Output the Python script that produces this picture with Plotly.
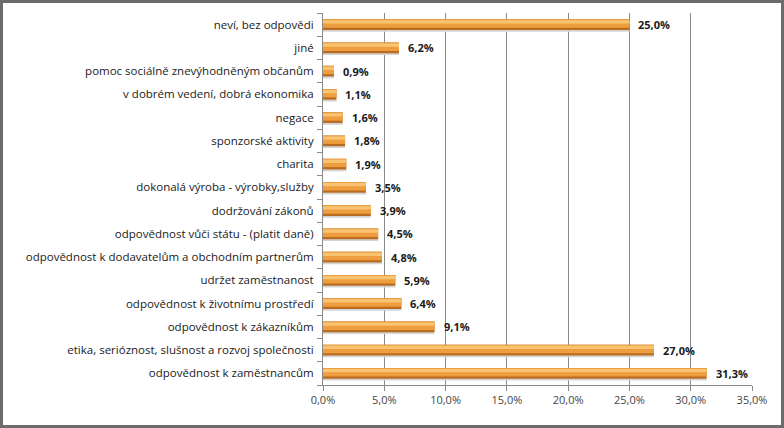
"""
Odpovědnost firem — horizontální sloupcový graf (Plotly)
"""
import plotly.graph_objects as go

# data: zdola nahoru, jak jsou v grafu
categories = [
    'odpovědnost k zaměstnancům',
    'etika, serióznost, slušnost a rozvoj společnosti',
    'odpovědnost k zákazníkům',
    'odpovědnost k životnímu prostředí',
    'udržet zaměstnanost',
    'odpovědnost k dodavatelům a obchodním partnerům',
    'odpovědnost vůči státu - (platit daně)',
    'dodržování zákonů',
    'dokonalá výroba - výrobky,služby',
    'charita',
    'sponzorské aktivity',
    'negace',
    'v dobrém vedení, dobrá ekonomika',
    'pomoc sociálně znevýhodněným občanům',
    'jiné',
    'neví, bez odpovědi',
]
values = [31.3, 27.0, 9.1, 6.4, 5.9, 4.8, 4.5, 3.9, 3.5, 1.9, 1.8, 1.6, 1.1, 0.9, 6.2, 25.0]
x_ticks = [0, 5, 10, 15, 20, 25, 30, 35]
x_ticktext = ['0,0%', '5,0%', '10,0%', '15,0%', '20,0%', '25,0%', '30,0%', '35,0%']

W, H = 784, 428
ML, MR, MT, MB = 323, 32, 13, 43
PW, PH = W - ML - MR, H - MT - MB

FONT = 'Open Sans'
labels = [f'{v:.1f}'.replace('.', ',') + '%' for v in values]

fig = go.Figure()

# válcový vzhled: stín, tmavý spodek, oranžové tělo, světlý horní pruh
for off, wid, color in [(-0.31, 0.09, '#d4d4d4'),
                        (-0.23, 0.46, '#b96b1f'),
                        (-0.13, 0.36, '#ee9e3e'),
                        (0.05, 0.14, '#f8c472')]:
    fig.add_trace(go.Bar(
        x=values, y=categories, orientation='h',
        offset=off, width=wid,
        marker=dict(color=color, line=dict(width=0)),
        hoverinfo='skip', showlegend=False,
    ))

for cat, v, lab in zip(categories, values, labels):
    fig.add_annotation(
        x=v, y=cat, text=f'<b>{lab}</b>', showarrow=False,
        xanchor='left', yanchor='middle', xshift=7,
        font=dict(family=FONT, size=11, color='#1a1a1a'),
    )

# rámeček kolem celého obrázku
fig.add_shape(
    type='rect', xref='paper', yref='paper',
    x0=(1.5 - ML) / PW, x1=(W - 1.5 - ML) / PW,
    y0=(PH + MT - (H - 1.5)) / PH, y1=(PH + MT - 1.5) / PH,
    line=dict(color='#6b6b6b', width=3), layer='above',
)

fig.update_layout(
    width=W, height=H,
    margin=dict(l=ML, r=MR, t=MT, b=MB),
    barmode='overlay',
    plot_bgcolor='white', paper_bgcolor='white',
    font=dict(family=FONT, size=11.5, color='#1a1a1a'),
)
fig.update_xaxes(
    range=[0, 35], tickvals=x_ticks, ticktext=x_ticktext,
    showgrid=True, gridcolor='#8a8a8a', gridwidth=1,
    showline=True, linecolor='#8a8a8a', linewidth=1,
    ticks='outside', ticklen=5, tickcolor='#8a8a8a',
    tickfont=dict(family=FONT, size=11, color='#444444'),
    zeroline=False, fixedrange=True,
)
fig.update_yaxes(
    categoryorder='array', categoryarray=categories,
    range=[-0.5, len(categories) - 0.5],
    showline=True, linecolor='#8a8a8a', linewidth=1,
    ticks='outside', ticklen=5, tickcolor='#8a8a8a', tickson='boundaries',
    ticklabelstandoff=6,
    tickfont=dict(family=FONT, size=11.5, color='#1a1a1a'),
    showgrid=False, fixedrange=True,
)

fig.write_html(
    'out.html',
    config={'displayModeBar': False},
    post_script="document.body.style.margin='0';document.body.style.overflow='hidden';",
)
